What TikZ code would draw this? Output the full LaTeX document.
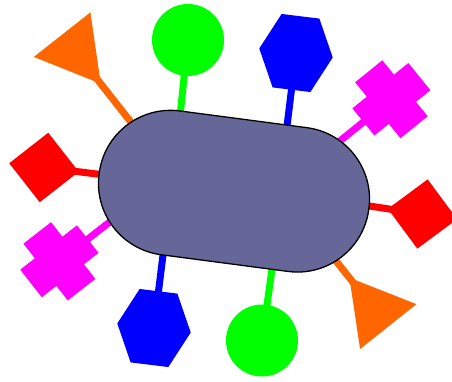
\documentclass[tikz,border=0pt]{standalone}
\definecolor{orng}{HTML}{FF6600}
\definecolor{grn}{HTML}{00FF00}
\definecolor{blu}{HTML}{0000FF}
\definecolor{mag}{HTML}{FF00FF}
\definecolor{rd}{HTML}{FF0000}
\definecolor{stad}{HTML}{666699}
\newcommand\tripath{(41.6,0) -- (-20.8,36) -- (-20.8,-36) -- cycle}
\newcommand\hexpath{(37,19) -- (0,37) -- (-37,19) -- (-37,-19) -- (0,-37) -- (37,-19) -- cycle}
\newcommand\diapath{(35,0) -- (0,35) -- (-35,0) -- (0,-35) -- cycle}
\newcommand\crosspath{(36,17.5) -- (17.5,17.5) -- (17.5,36) -- (-17.5,36) -- (-17.5,17.5) -- (-36,17.5) -- (-36,-17.5) -- (-17.5,-17.5) -- (-17.5,-36) -- (17.5,-36) -- (17.5,-17.5) -- (36,-17.5) -- cycle}
\begin{document}
\begin{tikzpicture}[x=1pt,y=-1pt,
  conn/.style={line width=7pt},
  stadium/.style={draw=black, line width=1.3pt, fill=stad, rounded corners=72pt,
    minimum width=272pt, minimum height=145pt, inner sep=0pt, rotate=-7.5}]
\useasboundingbox (0,0) rectangle (452,382);
% shape centres
\coordinate (c1) at (75,51);
\coordinate (c2) at (188,40);
\coordinate (c3) at (296,53);
\coordinate (c4) at (391.4,99.3);
\coordinate (c5) at (422.5,214);
\coordinate (c6) at (375.3,310.3);
\coordinate (c7) at (262,340.5);
\coordinate (c8) at (154,328);
\coordinate (c9) at (59.4,261.3);
\coordinate (c10) at (44,167.5);
% attach points (hidden inside the stadium)
\coordinate (e1) at (146.1,141.4);
\coordinate (e2) at (178.6,129.5);
\coordinate (e3) at (285.0,142.3);
\coordinate (e4) at (323.0,154.7);
\coordinate (e5) at (351.3,203.3);
\coordinate (e6) at (324.2,246.1);
\coordinate (e7) at (274.5,251.4);
\coordinate (e8) at (165,238.7);
\coordinate (e9) at (125.6,209.6);
\coordinate (e10) at (115.5,176.3);
% connectors
\draw[conn, orng] (e1) -- (c1);
\draw[conn, grn] (e2) -- (c2);
\draw[conn, blu] (e3) -- (c3);
\draw[conn, mag] (e4) -- (c4);
\draw[conn, rd] (e5) -- (c5);
\draw[conn, orng] (e6) -- (c6);
\draw[conn, grn] (e7) -- (c7);
\draw[conn, blu] (e8) -- (c8);
\draw[conn, mag] (e9) -- (c9);
\draw[conn, rd] (e10) -- (c10);
% central stadium
\node[stadium] (S) at (234,191.2) {};
% satellite shapes
\begin{scope}[shift={(c1)}, rotate=-51.8] \fill[orng] \tripath; \end{scope}
\fill[grn] (c2) circle[radius=36];
\begin{scope}[shift={(c3)}, rotate=-97] \fill[blu] \hexpath; \end{scope}
\begin{scope}[shift={(c4)}, rotate=-141] \fill[mag] \crosspath; \end{scope}
\begin{scope}[shift={(c5)}, rotate=-188.5] \fill[rd] \diapath; \end{scope}
\begin{scope}[shift={(c6)}, rotate=-231.5] \fill[orng] \tripath; \end{scope}
\fill[grn] (c7) circle[radius=36];
\begin{scope}[shift={(c8)}, rotate=-277] \fill[blu] \hexpath; \end{scope}
\begin{scope}[shift={(c9)}, rotate=38] \fill[mag] \crosspath; \end{scope}
\begin{scope}[shift={(c10)}, rotate=-7] \fill[rd] \diapath; \end{scope}
\end{tikzpicture}
\end{document}
